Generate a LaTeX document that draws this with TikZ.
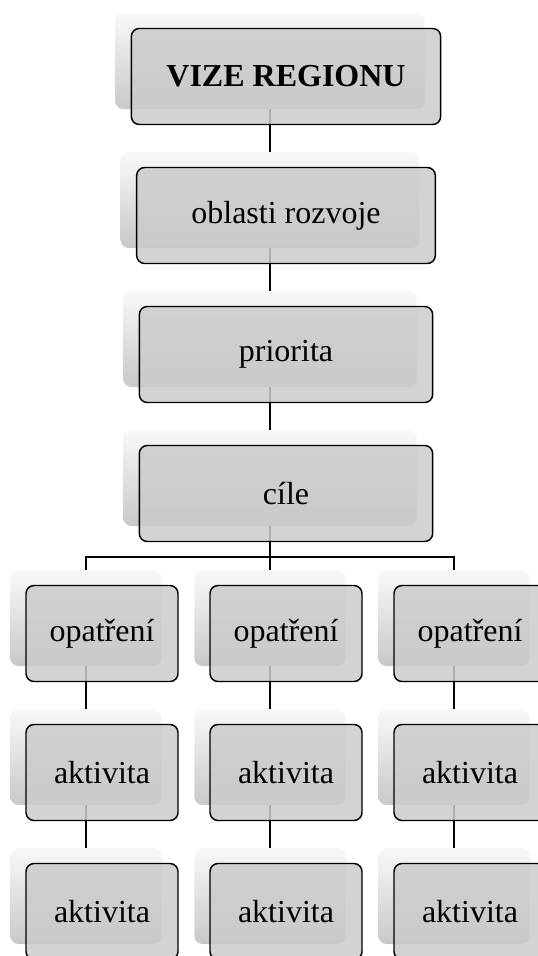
\documentclass[tikz,border=0pt]{standalone}
\usepackage{fontspec}
\setmainfont{Liberation Serif}
\usepackage{tikz}
\usetikzlibrary{positioning,calc}
\definecolor{boxFront}{RGB}{203,203,203}
\definecolor{backTop}{RGB}{249,249,249}
\definecolor{backBot}{RGB}{200,200,200}

\tikzset{
  backbox/.style={rectangle,rounded corners=6pt,minimum height=72pt,draw=none,top color=backTop,bottom color=backBot},
  frontbox/.style={rectangle,rounded corners=6pt,minimum height=72pt,inner sep=0pt,draw=black,line width=1.1pt,fill=boxFront,fill opacity=0.85,text opacity=1,font=\fontsize{24}{28}\selectfont},
  link/.style={draw=black,line width=1.1pt}
}

\begin{document}
\begin{tikzpicture}[x=0.75pt,y=-0.75pt]
  \useasboundingbox (0,0) rectangle (538,956);

  % main chain, back boxes
  \foreach \name/\w/\y in {vize/232pt/61,oblasti/224pt/200,priorita/220pt/339,cile/220pt/478} {
    \node[backbox,minimum width=\w] (\name-b) at (270,\y) {};
  }
  % three columns, back boxes
  \foreach \c/\x in {1/86,2/270,3/454} {
    \foreach \r/\y in {1/618,2/757,3/896} {
      \node[backbox,minimum width=113.5pt] (s\c\r-b) at (\x,\y) {};
    }
  }

  % links
  \draw[link] (vize-b.south) -- (oblasti-b.north);
  \draw[link] (oblasti-b.south) -- (priorita-b.north);
  \draw[link] (priorita-b.south) -- (cile-b.north);
  \coordinate (bus) at (270,557);
  \draw[link] (cile-b.south) -- (bus);
  \foreach \c in {1,2,3} {
    \draw[link] (bus) -| (s\c1-b.north);
    \draw[link] (s\c1-b.south) -- (s\c2-b.north);
    \draw[link] (s\c2-b.south) -- (s\c3-b.north);
  }

  % front boxes
  \node[frontbox,minimum width=232pt] (vize) at ([shift={(16,15.5)}]vize-b) {\textbf{VIZE REGIONU}};
  \node[frontbox,minimum width=224pt] (oblasti) at ([shift={(16,15.5)}]oblasti-b) {oblasti rozvoje};
  \node[frontbox,minimum width=220pt] (priorita) at ([shift={(16,15.5)}]priorita-b) {priorita};
  \node[frontbox,minimum width=220pt] (cile) at ([shift={(16,15.5)}]cile-b) {cíle};
  \foreach \c in {1,2,3} {
    \node[frontbox,minimum width=114pt] (s\c1) at ([shift={(16,15.5)}]s\c1-b) {opatření};
    \node[frontbox,minimum width=114pt] (s\c2) at ([shift={(16,15.5)}]s\c2-b) {aktivita};
    \node[frontbox,minimum width=114pt] (s\c3) at ([shift={(16,15.5)}]s\c3-b) {aktivita};
  }
\end{tikzpicture}
\end{document}
